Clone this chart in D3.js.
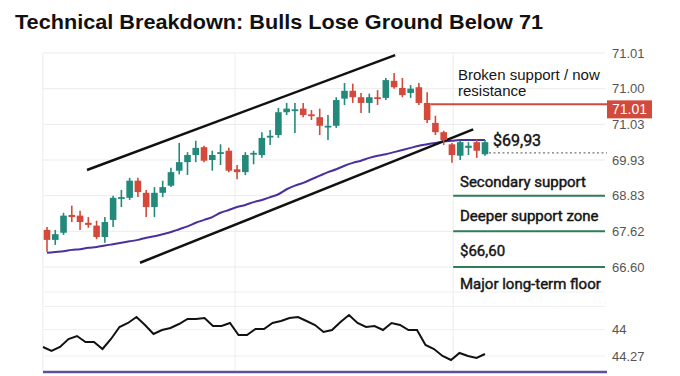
<!DOCTYPE html>
<html><head><meta charset="utf-8">
<script src="https://cdn.jsdelivr.net/npm/d3@7/dist/d3.min.js"></script>
<style>
html,body{margin:0;padding:0;background:#fff;}
svg{display:block;font-family:"Liberation Sans",Arial,sans-serif;}
</style></head>
<body><svg id="c" width="680" height="376"></svg>
<script>
// ---- data ----
const title = "Technical Breakdown: Bulls Lose Ground Below 71";
const opens  = [69.02,68.88,68.98,69.23,69.22,69.12,69.08,68.92,69.16,69.47,69.47,69.71,69.54,69.34,69.54,69.64,69.85,69.97,70.07,70.18,70.00,70.10,70.13,69.87,69.83,70.08,70.07,70.32,70.35,70.67,70.69,70.72,70.64,70.60,70.46,70.48,70.86,70.97,70.88,70.80,70.88,70.87,71.11,71.01,70.94,71.02,70.80,70.52,70.39,70.22,70.06,70.17,70.25,70.08];
const highs  = [69.06,69.02,69.26,69.36,69.29,69.20,69.15,69.20,69.50,69.58,69.75,69.75,69.58,69.62,69.71,69.89,70.24,70.11,70.27,70.20,70.13,70.22,70.17,69.93,70.11,70.13,70.39,70.42,70.73,70.80,70.80,70.80,70.70,70.72,70.63,70.88,71.08,71.07,70.94,70.93,70.98,71.15,71.22,71.15,71.05,71.08,70.95,70.62,70.41,70.24,70.27,70.25,70.29,70.28];
const lows   = [68.71,68.81,68.95,69.13,69.02,69.05,68.89,68.84,69.06,69.34,69.44,69.48,69.20,69.20,69.48,69.62,69.80,69.79,69.97,69.97,69.85,69.93,69.83,69.73,69.79,69.94,70.03,70.21,70.31,70.63,70.38,70.60,70.56,70.35,70.28,70.45,70.77,70.80,70.66,70.66,70.77,70.84,71.00,70.88,70.87,70.77,70.52,70.35,70.21,69.96,70.00,70.07,70.03,70.06];
const closes = [68.88,68.96,69.22,69.20,69.13,69.09,68.92,69.13,69.47,69.48,69.71,69.55,69.34,69.54,69.62,69.83,69.97,70.07,70.17,69.99,70.07,70.11,69.85,69.83,70.07,70.10,70.31,70.34,70.67,70.72,70.71,70.63,70.62,70.48,70.48,70.84,70.97,70.88,70.80,70.88,70.86,71.12,71.02,70.91,71.00,70.80,70.56,70.39,70.28,70.07,70.25,70.20,70.13,70.25];
const movingAvg = [68.70,68.71,68.72,68.74,68.75,68.77,68.78,68.80,68.82,68.84,68.86,68.88,68.91,68.93,68.96,68.99,69.03,69.07,69.12,69.16,69.20,69.26,69.30,69.34,69.37,69.41,69.44,69.48,69.52,69.59,69.64,69.68,69.73,69.78,69.83,69.87,69.92,69.96,69.99,70.03,70.06,70.08,70.11,70.14,70.17,70.20,70.22,70.24,70.26,70.27,70.28,70.28,70.28,70.28];
const upperTrend = [{i:4.84,p:69.86},{i:42.13,p:71.47}];
const lowerTrend = [{i:11.26,p:68.56},{i:51.57,p:70.43}];
const priceGrid = [71.5,71.0,70.5,70.0,69.5,69.0,68.5];
const priceTickLabels = ["71.01","71.00","71.03","69.93","68.83","67.62","66.60"];
const resistance = {level:70.78, from:46.4, label:"71.01"};
const supportLevels = [69.5, 69.0, 68.5];
const currentLevel = 70.10;
const currentLabel = "$69,93";
const noteTexts = [
  {t:"Broken support /\u00a0now", y:80, m:false},
  {t:"resistance", y:96, m:false},
  {t:"Secondary support", y:187, m:true},
  {t:"Deeper support zone", y:221, m:true},
  {t:"$66,60", y:256, m:true},
  {t:"Major long-term floor", y:289, m:true}
];
const oscValues = [31.25,26.25,31.25,41.25,45,37.5,37.5,28.75,41.25,56.25,61.25,68.75,58.75,47.5,52.5,55,60,66.25,66.25,67.5,57.5,57.5,61.25,46.25,46.25,53.75,53.75,61.25,63.75,67.5,68.75,63.75,58.75,50,52.5,62.5,71.25,61.25,56.25,57.5,52.5,61.25,58.75,52.5,52.5,33.75,28.75,20,15,23.75,20,17.5,22.5];
const oscGrid = [100,82,53,20];
const oscTickLabels = [{v:53,t:"44"},{v:20,t:"44.27"}];
const vGridIdx = [-0.5, 22.75, 49.15];

// ---- scales ----
const svg = d3.select("#c");
const x = d3.scaleLinear().domain([0, opens.length-1]).range([47, 485]);
const y = d3.scaleLinear().domain([68.5, 71.5]).range([267, 53]);
const ox = d3.scaleLinear().domain([0, oscValues.length-1]).range([43, 485]);
const oy = d3.scaleLinear().domain([0, 100]).range([372, 292]);
const gridL = 43, gridR = 605;

// title
svg.append("text").attr("x",15).attr("y",29).text(title)
  .attr("font-size",21).attr("font-weight","bold").attr("fill","#111")
  .attr("textLength",528).attr("lengthAdjust","spacingAndGlyphs");

// gridlines
const g = svg.append("g");
g.selectAll(".hg").data(priceGrid).join("line")
  .attr("x1",gridL).attr("x2",gridR).attr("y1",d=>y(d)).attr("y2",d=>y(d))
  .attr("stroke","#ebebeb").attr("stroke-width",1);
g.selectAll(".og").data(oscGrid).join("line")
  .attr("x1",gridL).attr("x2",gridR).attr("y1",d=>oy(d)).attr("y2",d=>oy(d))
  .attr("stroke","#efefef").attr("stroke-width",1);
g.selectAll(".vg").data(vGridIdx).join("line")
  .attr("x1",d=>x(d)).attr("x2",d=>x(d)).attr("y1",y(71.5)).attr("y2",oy(0))
  .attr("stroke","#ededed").attr("stroke-width",1);

// right tick labels
svg.selectAll(".pt").data(priceGrid).join("text")
  .attr("x",612).attr("y",d=>y(d)+4.5).text((d,i)=>priceTickLabels[i])
  .attr("font-size",13).attr("fill","#555");
svg.selectAll(".ot").data(oscTickLabels).join("text")
  .attr("x",612).attr("y",d=>oy(d.v)+4.5).text(d=>d.t)
  .attr("font-size",13).attr("fill","#555");

// support lines
svg.selectAll(".sup").data(supportLevels).join("line")
  .attr("x1",x(49.15)).attr("x2",gridR).attr("y1",d=>y(d)).attr("y2",d=>y(d))
  .attr("stroke","#2e7d57").attr("stroke-width",2);

// resistance
svg.append("line").attr("x1",x(resistance.from)).attr("x2",607)
  .attr("y1",y(resistance.level)).attr("y2",y(resistance.level))
  .attr("stroke","#cf4a3c").attr("stroke-width",2);
svg.append("rect").attr("x",607).attr("y",y(resistance.level)-4).attr("width",45).attr("height",18)
  .attr("fill","#d24a3c");
svg.append("text").attr("x",629.5).attr("y",y(resistance.level)+10).attr("text-anchor","middle")
  .text(resistance.label).attr("font-size",14).attr("fill","#fff");

// current price dotted
svg.append("line").attr("x1",489).attr("x2",607).attr("y1",y(currentLevel)).attr("y2",y(currentLevel))
  .attr("stroke","#777").attr("stroke-width",1.2).attr("stroke-dasharray","2,2.5");

// moving average
svg.append("path").datum(movingAvg)
  .attr("d", d3.line().x((d,i)=>x(i)).y(d=>y(d)).curve(d3.curveMonotoneX))
  .attr("fill","none").attr("stroke","#4a2f9e").attr("stroke-width",2);

// trend lines
[upperTrend, lowerTrend].forEach(t=>{
  svg.append("path").datum(t).attr("d", d3.line().x(d=>x(d.i)).y(d=>y(d.p)))
    .attr("stroke","#111").attr("stroke-width",2.5).attr("fill","none");
});

// candles
const idx = d3.range(opens.length);
const up = "#23897b", dn = "#d5493b";
const cg = svg.append("g");
cg.selectAll(".wick").data(idx).join("line")
  .attr("x1",i=>x(i)).attr("x2",i=>x(i)).attr("y1",i=>y(highs[i])).attr("y2",i=>y(lows[i]))
  .attr("stroke",i=>closes[i]>=opens[i]?up:dn).attr("stroke-width",1.6);
cg.selectAll(".body").data(idx).join("rect")
  .attr("x",i=>x(i)-3.3).attr("width",6.6)
  .attr("y",i=>y(Math.max(opens[i],closes[i])))
  .attr("height",i=>Math.max(1.8, Math.abs(y(opens[i])-y(closes[i]))))
  .attr("fill",i=>closes[i]>=opens[i]?up:dn);

// annotation texts
svg.selectAll(".note").data(noteTexts).join("text")
  .attr("x",(d,i)=>i<2?458:460).attr("y",d=>d.y).text(d=>d.t)
  .attr("font-family",d=>d.m?"Roboto, sans-serif":null)
  .attr("font-size",15).attr("font-weight","normal")
  .attr("fill","#151515")
  .attr("stroke",d=>d.m?"#151515":"none").attr("stroke-width",0.45);
svg.append("text").attr("x",493).attr("y",146).text(currentLabel)
  .attr("font-family","Roboto, sans-serif")
  .attr("font-size",16).attr("font-weight","normal").attr("fill","#151515")
  .attr("stroke","#151515").attr("stroke-width",0.45);

// oscillator
svg.append("path").datum(oscValues)
  .attr("d", d3.line().x((d,i)=>ox(i)).y(d=>oy(d)))
  .attr("fill","none").attr("stroke","#111").attr("stroke-width",2);
svg.append("line").attr("x1",43).attr("x2",607).attr("y1",oy(0)).attr("y2",oy(0))
  .attr("stroke","#5d4fa3").attr("stroke-width",2.5);
</script></body></html>
